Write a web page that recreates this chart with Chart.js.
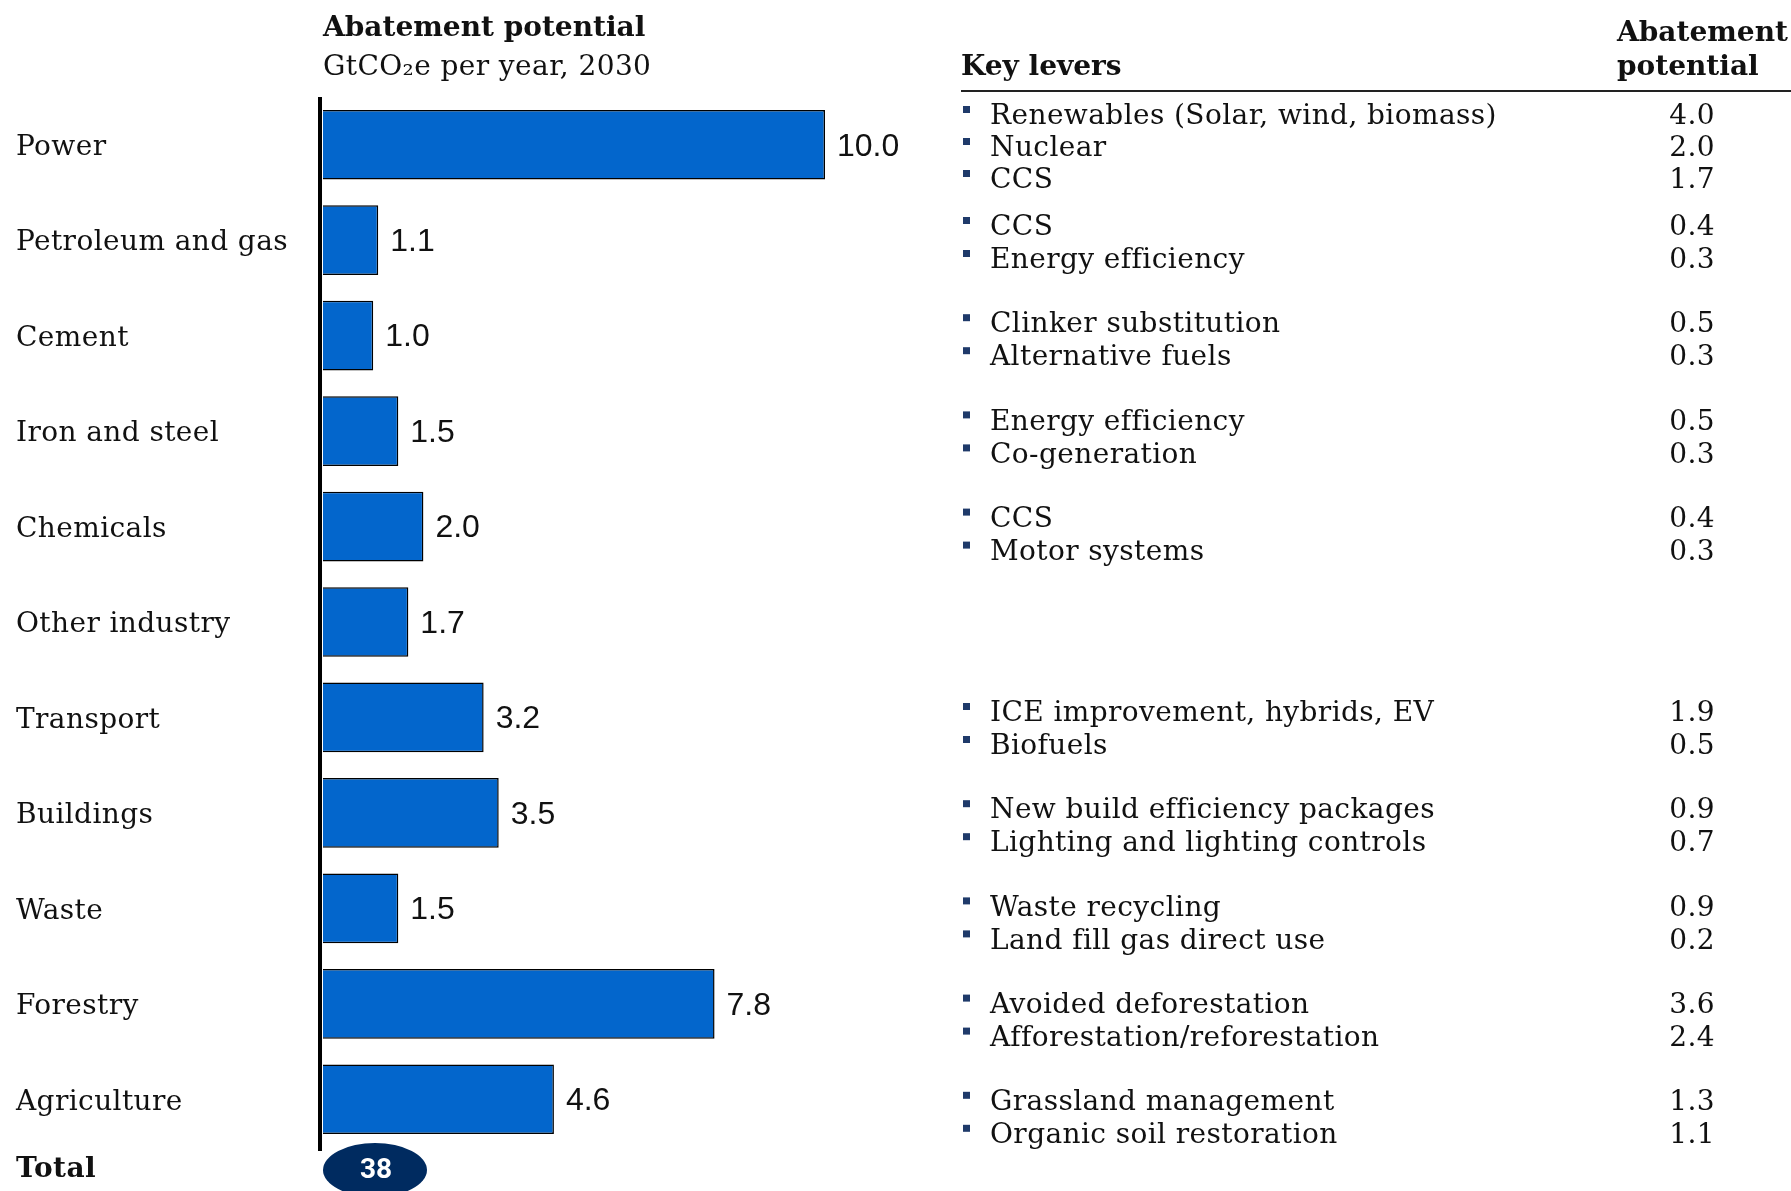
<!DOCTYPE html>
<html>
<head>
<meta charset="utf-8">
<script src="https://cdn.jsdelivr.net/npm/chart.js@4.4.1/dist/chart.umd.min.js"></script>
<style>
  html, body { margin: 0; padding: 0; background: #fff; }
  #wrap { position: relative; width: 1791px; height: 1191px; overflow: hidden; }
</style>
</head>
<body>
<div id="wrap"><canvas id="abatement" width="1791" height="1191"></canvas></div>
<script>
// ── Sectors and abatement potential, GtCO2e per year in 2030 ──
const sectors = [
    'Power', 'Petroleum and gas', 'Cement', 'Iron and steel', 'Chemicals',
    'Other industry', 'Transport', 'Buildings', 'Waste', 'Forestry', 'Agriculture'
];
const potential = [10.0, 1.1, 1.0, 1.5, 2.0, 1.7, 3.2, 3.5, 1.5, 7.8, 4.6];

// key levers per sector (same order as sectors) and their potential
const leverNames = [
    ['Renewables (Solar, wind, biomass)', 'Nuclear', 'CCS'],
    ['CCS', 'Energy efficiency'],
    ['Clinker substitution', 'Alternative fuels'],
    ['Energy efficiency', 'Co-generation'],
    ['CCS', 'Motor systems'],
    [],
    ['ICE improvement, hybrids, EV', 'Biofuels'],
    ['New build efficiency packages', 'Lighting and lighting controls'],
    ['Waste recycling', 'Land fill gas direct use'],
    ['Avoided deforestation', 'Afforestation/reforestation'],
    ['Grassland management', 'Organic soil restoration']
];
const leverValues = [
    [4.0, 2.0, 1.7],
    [0.4, 0.3],
    [0.5, 0.3],
    [0.5, 0.3],
    [0.4, 0.3],
    [],
    [1.9, 0.5],
    [0.9, 0.7],
    [0.9, 0.2],
    [3.6, 2.4],
    [1.3, 1.1]
];

const BAR_BLUE  = '#0366cc';
const NAVY      = '#002b60';
const INK       = '#111111';
const SERIF     = "'DejaVu Serif', serif";
const SANS      = "'Liberation Sans', Arial, sans-serif";
const SERIF_DY  = 3;   // DejaVu sits a little high with baseline 'middle'

// table on the right
const TBL_BULLET_X = 963;
const TBL_TEXT_X   = 990;
const TBL_VALUE_X  = 1715;
const TBL_LINE     = 33;

function leverRowY(group, line) {
    if (group === 0) return 114 + line * 32;
    return 225 + (group - 1) * 97.2 + line * TBL_LINE;
}

function serifText(ctx, text, x, y) {
    ctx.fillText(text, x, y + SERIF_DY);
}

const decorations = {
    id: 'decorations',
    afterDatasetsDraw(chart) {
        const ctx  = chart.ctx;
        const area = chart.chartArea;
        const y    = chart.scales.y;
        const bars = chart.getDatasetMeta(0).data;

        ctx.save();
        ctx.fillStyle = INK;
        ctx.textBaseline = 'middle';

        // headers
        ctx.textAlign = 'left';
        ctx.letterSpacing = '0px';
        ctx.font = `bold 28px ${SERIF}`;
        serifText(ctx, 'Abatement potential', 323, 26);
        serifText(ctx, 'Key levers', 961, 65);
        serifText(ctx, 'Abatement', 1617, 31);
        serifText(ctx, 'potential', 1617, 65);
        ctx.letterSpacing = '0.4px';
        ctx.font = `28px ${SERIF}`;
        serifText(ctx, 'GtCO₂e per year, 2030', 323, 65);

        ctx.strokeStyle = '#222';
        ctx.lineWidth = 2;
        ctx.beginPath();
        ctx.moveTo(961, 91);
        ctx.lineTo(1791, 91);
        ctx.stroke();

        // sector labels
        ctx.font = `28px ${SERIF}`;
        sectors.forEach((s, i) => serifText(ctx, s, 16, y.getPixelForValue(i)));
        ctx.font = `bold 28px ${SERIF}`;
        serifText(ctx, 'Total', 16, 1167);

        // value labels at bar ends
        ctx.letterSpacing = '0px';
        ctx.font = `32px ${SANS}`;
        bars.forEach((b, i) => ctx.fillText(potential[i].toFixed(1), b.x + 12, b.y + 2));

        // vertical axis line
        ctx.strokeStyle = '#000';
        ctx.lineWidth = 4;
        ctx.beginPath();
        ctx.moveTo(area.left - 3, area.top);
        ctx.lineTo(area.left - 3, area.bottom + 4);
        ctx.stroke();

        // total bubble
        const total = potential.reduce((a, v) => a + v, 0);
        ctx.fillStyle = NAVY;
        ctx.beginPath();
        ctx.ellipse(375, 1170, 52, 27, 0, 0, Math.PI * 2);
        ctx.fill();
        ctx.fillStyle = '#fff';
        ctx.textAlign = 'center';
        ctx.font = "bold 28px Roboto, sans-serif";
        ctx.fillText(String(Math.round(total)), 376, 1171);

        // key levers table
        ctx.letterSpacing = '0.4px';
        leverNames.forEach((names, g) => {
            names.forEach((name, j) => {
                const ly = leverRowY(g, j);
                ctx.fillStyle = '#1f3a6a';
                ctx.fillRect(TBL_BULLET_X, ly - 8, 7, 7);
                ctx.fillStyle = INK;
                ctx.textAlign = 'left';
                ctx.font = `28px ${SERIF}`;
                serifText(ctx, name, TBL_TEXT_X, ly);
                ctx.textAlign = 'right';
                serifText(ctx, leverValues[g][j].toFixed(1), TBL_VALUE_X, ly);
            });
        });
        ctx.restore();
    }
};

new Chart(document.getElementById('abatement'), {
    type: 'bar',
    data: {
        labels: sectors,
        datasets: [{
            data           : potential,
            backgroundColor: BAR_BLUE,
            borderColor    : '#000',
            borderWidth    : 1.5,
            borderSkipped  : 'left',
            categoryPercentage: 1,
            barPercentage  : 0.73
        }]
    },
    options: {
        indexAxis : 'y',
        responsive: false,
        animation : false,
        layout    : { padding: { left: 323, top: 97, right: 715, bottom: 44 } },
        plugins   : { legend: { display: false }, tooltip: { enabled: false } },
        scales: {
            x: { display: false, min: 0, max: 15 },
            y: { display: false }
        }
    },
    plugins: [decorations]
});
</script>
</body>
</html>
